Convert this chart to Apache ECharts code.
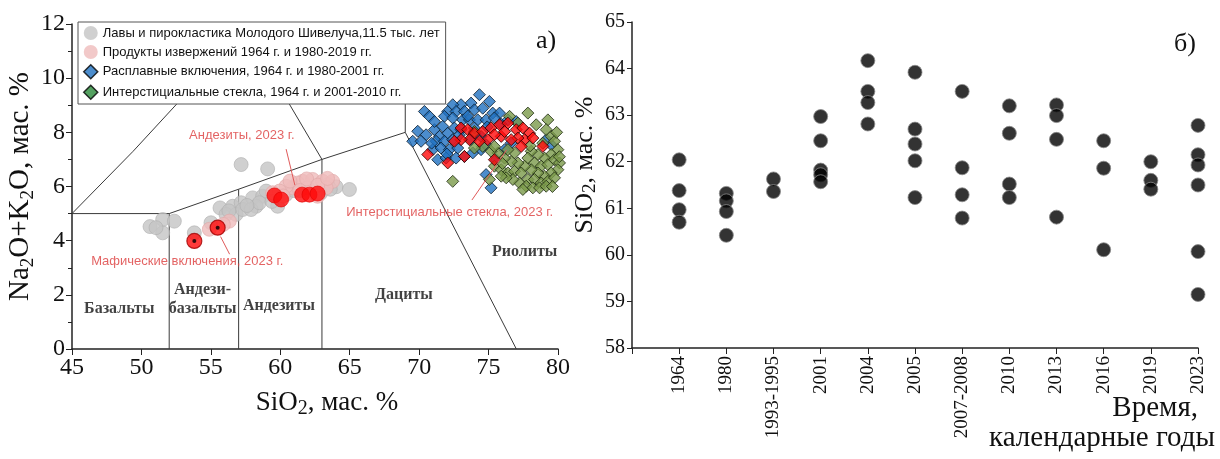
<!DOCTYPE html>
<html><head><meta charset="utf-8">
<script src="https://cdn.jsdelivr.net/npm/echarts@6.0.0/dist/echarts.min.js"></script>
<style>html,body{margin:0;padding:0;background:#fff}#c{width:1220px;height:459px}</style>
</head><body><div id="c"></div>
<script>
// ---------- Panel a) TAS diagram data ----------
const greyLavas = [[57.18,6.81],[59.09,6.65],[50.62,4.52],[51.53,4.78],[52.37,4.72],[51.53,4.29],[51.05,4.48],[53.81,4.29],[55.01,4.66],[55.66,5.21],[56.57,5.27],[57.18,5.4],[58.01,5.58],[58.73,5.64],[58.26,5.27],[58.98,5.83],[59.81,5.27],[56.09,4.97],[56.82,4.97],[57.29,5.15],[57.9,5.15],[58.5,5.4],[57.6,5.3],[64.02,5.99],[64.98,5.89],[63.42,6.07],[60.42,5.7],[59.4,5.45],[56.3,5.1],[62.9,5.75],[61.0,5.85],[63.6,5.9]];
const pinkProducts = [[54.89,4.42],[56.33,4.72],[60.89,5.95],[61.61,6.19],[62.33,6.26],[63.05,6.19],[63.77,6.19],[61.25,6.13],[61.97,5.95],[60.42,6.01],[59.94,5.83],[63.3,5.95],[62.69,5.64],[59.45,5.77],[60.7,6.2],[61.9,6.28],[62.7,6.05],[61.4,5.85],[63.4,6.3],[60.2,5.65],[55.9,4.6]];
const blueInclusions = [[74.34,9.39],[75.06,9.14],[73.74,9.08],[73.02,9.02],[72.42,9.02],[72.06,8.77],[72.66,8.77],[73.26,8.77],[73.98,8.83],[74.58,8.89],[75.3,8.71],[75.79,8.71],[70.38,8.77],[70.74,8.59],[71.82,8.59],[72.42,8.53],[73.14,8.46],[73.62,8.46],[74.22,8.46],[74.82,8.46],[75.42,8.53],[76.39,8.46],[76.99,8.4],[69.9,8.04],[70.5,7.91],[69.54,7.67],[70.14,7.67],[71.1,8.1],[71.46,7.85],[72.06,7.97],[72.54,8.16],[71.7,8.22],[71.22,7.67],[71.82,7.67],[72.42,7.73],[70.98,7.36],[71.58,7.42],[72.18,7.36],[72.78,7.42],[71.34,6.99],[71.94,7.05],[72.66,7.05],[73.26,7.11],[73.86,7.24],[74.46,7.36],[74.82,7.54],[74.82,6.44],[75.18,5.95],[75.54,6.99],[76.15,7.36],[76.63,7.61],[79.51,7.54],[79.15,7.73],[73.02,8.1],[73.98,8.16],[74.46,7.85],[73.74,7.73],[71.1,8.4],[73.5,8.6],[74.9,8.2],[70.9,7.6],[72.0,7.2],[75.9,8.3],[72.9,7.9]];
const greenGlass = [[77.83,8.71],[79.27,8.46],[76.51,8.59],[77.11,8.34],[73.98,8.03],[78.43,8.28],[79.15,8.1],[79.51,7.85],[79.75,7.67],[79.99,7.36],[79.51,7.18],[79.03,7.05],[78.55,7.18],[78.07,7.3],[77.83,7.05],[78.31,6.87],[78.79,6.75],[79.27,6.81],[79.75,6.99],[80.11,6.87],[79.99,6.62],[79.51,6.5],[79.03,6.38],[78.55,6.5],[78.07,6.62],[77.59,6.75],[77.11,6.87],[76.63,6.93],[76.15,7.05],[75.67,7.24],[75.18,7.3],[75.42,6.75],[75.91,6.62],[76.39,6.5],[76.87,6.56],[77.35,6.5],[77.83,6.26],[78.31,6.26],[78.79,6.13],[79.27,6.19],[79.75,6.32],[77.23,6.13],[76.75,6.26],[76.27,6.32],[75.91,6.38],[77.71,6.01],[78.19,5.95],[78.67,5.95],[79.15,6.01],[77.47,5.89],[72.42,6.19],[75.06,6.26],[76.87,7.24],[76.39,7.36],[75.42,7.48],[74.58,7.48],[73.98,7.42],[79.9,8.0],[78.9,7.6],[80.1,7.1],[79.6,6.0],[76.0,6.85],[78.0,7.5]];
const redGlass2023 = [[73.02,8.16],[73.5,8.1],[73.98,7.97],[74.58,8.03],[75.18,8.16],[75.79,8.28],[76.39,8.34],[76.99,8.1],[77.47,8.16],[77.95,7.97],[77.59,7.73],[77.11,7.79],[76.63,7.73],[75.91,7.85],[75.42,7.91],[74.94,7.73],[74.34,7.67],[73.62,7.73],[73.02,7.73],[72.54,7.67],[77.35,7.48],[78.91,7.48],[70.62,7.18],[72.06,6.87],[73.26,7.11],[75.42,6.99],[76.15,8.03],[78.19,7.79]];
const redAndesites2023 = [[59.58,5.67],[60.06,5.52],[61.57,5.7],[62.1,5.7],[62.69,5.74]];
const maficInclusions2023 = [[53.81,3.99],[55.49,4.48]];

// TAS field boundaries (polylines, SiO2 vs Na2O+K2O)
const tasBoundaries = [
  [[45,5],[49.4,7.3],[53,9.3],[57.6,11.7]],
  [[45,5],[52,5],[57,5.9],[63,7],[69,8]],
  [[52,0],[52,5]],
  [[57,0],[57,5.9]],
  [[63,0],[63,7]],
  [[63,7],[57.6,11.7]],
  [[69,8],[69,12]],
  [[69,8],[77,0]]
];
const fieldLabels = [['Базальты',48.4,1.5],['Андези-\nбазальты',54.4,1.85],['Андезиты',59.9,1.6],['Дациты',68.9,2.0],['Риолиты',77.6,3.6]];
const annotations = [['Андезиты, 2023 г.',57.23,7.9],['Мафические включения, 2023 г.',53.3,3.25],['Интерстициальные стекла, 2023 г.',72.2,5.05]];
const leaderLines = [[[60.42,7.38],[61.05,6.05]],[[55.7,4.15],[56.35,3.5]],[[73.8,5.5],[76.3,7.35]]];
const tasXTicks = {min:45,max:80,interval:5};
const tasYTicks = {min:0,max:12,interval:2};

// ---------- Panel б) SiO2 by year ----------
const years = ['1964','1980','1993-1995','2001','2004','2005','2007-2008','2010','2013','2016','2019','2023'];
const sio2ByYear = [
  [62.04,61.38,60.97,60.70],
  [61.32,61.16,60.93,60.42],
  [61.63,61.36],
  [62.97,62.45,61.82,61.72,61.57],
  [64.17,63.51,63.27,62.81],
  [63.92,62.70,62.38,62.02,61.23],
  [63.51,61.87,61.29,60.79],
  [63.20,62.61,61.52,61.23],
  [63.22,62.99,62.48,60.81],
  [62.45,61.86,60.11],
  [62.0,61.6,61.41],
  [62.78,62.15,61.93,61.50,60.07,59.15]
];
const sio2Ticks = {min:58,max:65,interval:1};

// ---------- build ----------
const SERIF = "'Liberation Serif','Times New Roman',serif";
const SANS = "'Liberation Sans',Arial,sans-serif";
const N1='Лавы и пирокластика Молодого Шивелуча,11.5 тыс. лет';
const N2='Продукты извержений 1964 г. и 1980-2019 гг.';
const N3='Расплавные включения, 1964 г. и 1980-2001 гг.';
const N4='Интерстициальные стекла, 1964 г. и 2001-2010 гг.';

const series = [];
tasBoundaries.forEach(b => series.push({type:'line',xAxisIndex:0,yAxisIndex:0,data:b,symbol:'none',silent:true,z:1,lineStyle:{color:'#3a3a3a',width:1}}));
leaderLines.forEach(b => series.push({type:'line',xAxisIndex:0,yAxisIndex:0,data:b,symbol:'none',silent:true,z:6,lineStyle:{color:'#e05a5a',width:1}}));
series.push({name:N1,type:'scatter',xAxisIndex:0,yAxisIndex:0,data:greyLavas,symbol:'circle',symbolSize:14,clip:false,z:2,itemStyle:{color:'#c4c4c4',borderColor:'#b0b0b0',borderWidth:0.8}});
series.push({name:N2,type:'scatter',xAxisIndex:0,yAxisIndex:0,data:pinkProducts,symbol:'circle',symbolSize:14,clip:false,z:3,itemStyle:{color:'#efbcbc',borderColor:'#e0a8a8',borderWidth:0.8}});
series.push({name:'andes2023',type:'scatter',xAxisIndex:0,yAxisIndex:0,data:redAndesites2023,symbol:'circle',symbolSize:15,clip:false,z:4,itemStyle:{color:'#ff0a0a',borderColor:'#e00000',borderWidth:0.8}});
series.push({name:'mafic2023',type:'scatter',xAxisIndex:0,yAxisIndex:0,data:maficInclusions2023,symbol:'circle',symbolSize:15,clip:false,z:4,itemStyle:{color:'#ff0a0a',borderColor:'#a00000',borderWidth:1.2}});
series.push({name:'maficDot',type:'scatter',xAxisIndex:0,yAxisIndex:0,data:maficInclusions2023,symbol:'circle',symbolSize:4,clip:false,z:5,itemStyle:{color:'#000'}});
series.push({name:N3,type:'scatter',xAxisIndex:0,yAxisIndex:0,data:blueInclusions,symbol:'diamond',symbolSize:12,clip:false,z:3,itemStyle:{color:'#1f70c0',borderColor:'#0b1b2b',borderWidth:1}});
series.push({name:N4,type:'scatter',xAxisIndex:0,yAxisIndex:0,data:greenGlass,symbol:'diamond',symbolSize:12,clip:false,z:4,itemStyle:{color:'#7a9a4a',borderColor:'#1e2a10',borderWidth:1}});
series.push({name:'glass2023',type:'scatter',xAxisIndex:0,yAxisIndex:0,data:redGlass2023,symbol:'diamond',symbolSize:12,clip:false,z:5,itemStyle:{color:'#ff0a0a',borderColor:'#2a0000',borderWidth:1}});
series.push({type:'scatter',xAxisIndex:0,yAxisIndex:0,silent:true,symbolSize:1,z:7,itemStyle:{color:'rgba(0,0,0,0)'},
  data:fieldLabels.map(f=>({name:f[0],value:[f[1],f[2]]})),
  label:{show:true,position:'inside',formatter:'{b}',fontFamily:SERIF,fontWeight:'bold',fontSize:16,color:'#111',lineHeight:19,align:'center'}});
series.push({type:'scatter',xAxisIndex:0,yAxisIndex:0,silent:true,symbolSize:1,z:7,itemStyle:{color:'rgba(0,0,0,0)'},
  data:annotations.map(f=>({name:f[0],value:[f[1],f[2]]})),
  label:{show:true,position:'inside',formatter:'{b}',fontFamily:SANS,fontSize:13,color:'#dc3c3c'}});
// panel б
const yearData = [];
years.forEach((y,i)=>sio2ByYear[i].forEach(v=>yearData.push([y,v])));
series.push({type:'scatter',xAxisIndex:1,yAxisIndex:1,data:yearData,symbol:'circle',symbolSize:14,clip:false,itemStyle:{color:'#000',borderColor:'#8a8a8a',borderWidth:1}});

const sub = {s:{fontSize:19,fontFamily:SERIF,padding:[15,0,0,0],color:'#111'}};
const subX = {s:{fontSize:20,fontFamily:SERIF,padding:[12,0,0,0],color:'#111'}};
const subR = {s:{fontSize:19,fontFamily:SERIF,padding:[11,0,0,0],color:'#111'}};

const option = {
  animation:false,
  backgroundColor:'#fff',
  grid:[{left:72,right:662,top:24,bottom:110},{left:632,right:22,top:22,bottom:111}],
  legend:{
    orient:'vertical',left:78,top:22,z:20,backgroundColor:'#fff',borderColor:'#555',borderWidth:1,
    padding:[4,6,4,5],itemGap:5,itemWidth:14,itemHeight:14,selectedMode:false,
    textStyle:{fontFamily:SANS,fontSize:13,color:'#111'},
    data:[
      {name:N1,icon:'circle',itemStyle:{color:'#c4c4c4',borderWidth:0}},
      {name:N2,icon:'circle',itemStyle:{color:'#efbcbc',borderWidth:0}},
      {name:N3,icon:'diamond',itemStyle:{color:'#1f70c0',borderColor:'#000',borderWidth:1.5}},
      {name:N4,icon:'diamond',itemStyle:{color:'#2a8a3a',borderColor:'#000',borderWidth:1.5}}
    ]
  },
  xAxis:[
    {type:'value',gridIndex:0,min:tasXTicks.min,max:tasXTicks.max,interval:tasXTicks.interval,
     axisLine:{show:true,onZero:false,lineStyle:{color:'#222',width:1.5}},axisTick:{show:true,length:6,lineStyle:{color:'#222'}},
     splitLine:{show:false},axisLabel:{fontFamily:SERIF,fontSize:24,color:'#111',margin:7},
     name:'SiO{s|2}, мас. %',nameLocation:'middle',nameGap:38,
     nameTextStyle:{fontFamily:SERIF,fontSize:27,color:'#111',rich:subX,padding:[0,0,0,24]}},
    {type:'category',gridIndex:1,data:[''].concat(years),boundaryGap:false,
     axisLine:{show:true,lineStyle:{color:'#222',width:1.5}},axisTick:{show:true,interval:0,length:6,lineStyle:{color:'#222'}},
     axisLabel:{interval:0,rotate:90,fontFamily:SERIF,fontSize:19,color:'#111',margin:8},splitLine:{show:false}}
  ],
  yAxis:[
    {type:'value',gridIndex:0,min:tasYTicks.min,max:tasYTicks.max,interval:tasYTicks.interval,
     axisLine:{show:true,lineStyle:{color:'#222',width:1.5}},axisTick:{show:true,length:6,lineStyle:{color:'#222'}},
     minorTick:{show:true,splitNumber:2,length:4,lineStyle:{color:'#222'}},
     splitLine:{show:false},axisLabel:{fontFamily:SERIF,fontSize:24,color:'#111',margin:7},
     name:'Na{s|2}O+K{s|2}O, мас. %',nameLocation:'middle',nameGap:31,nameRotate:90,
     nameTextStyle:{fontFamily:SERIF,fontSize:29,color:'#111',rich:sub}},
    {type:'value',gridIndex:1,min:sio2Ticks.min,max:sio2Ticks.max,interval:sio2Ticks.interval,
     axisLine:{show:true,lineStyle:{color:'#222',width:1.5}},axisTick:{show:true,length:5,lineStyle:{color:'#222'}},
     splitLine:{show:false},axisLabel:{fontFamily:SERIF,fontSize:20,color:'#111',margin:7},
     name:'SiO{s|2}, мас. %',nameLocation:'middle',nameGap:32,nameRotate:90,
     nameTextStyle:{fontFamily:SERIF,fontSize:26,color:'#111',rich:subR,padding:[0,0,0,40]}}
  ],
  graphic:[
    {type:'text',left:536,top:28,style:{text:'а)',font:"26px 'Liberation Serif', serif",fill:'#111'}},
    {type:'text',left:1174,top:31,style:{text:'б)',font:"26px 'Liberation Serif', serif",fill:'#111'}},
    {type:'text',right:22,top:394,style:{text:'Время,',font:"29px 'Liberation Serif', serif",fill:'#111'}},
    {type:'text',right:5,top:424,style:{text:'календарные годы',font:"29px 'Liberation Serif', serif",fill:'#111'}}
  ],
  series:series
};
const chart = echarts.init(document.getElementById('c'),null,{renderer:'canvas'});
chart.setOption(option);
</script>
</body></html>
